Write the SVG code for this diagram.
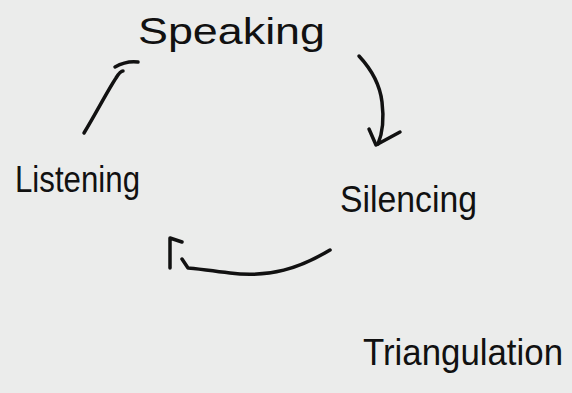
<svg xmlns="http://www.w3.org/2000/svg" width="572" height="393" viewBox="0 0 572 393">
  <style>
    .lbl { font-family: "Liberation Sans", Arial, sans-serif; font-size: 36px; fill: #111; }
    .ink { fill: none; stroke: #111; stroke-width: 3.5; stroke-linecap: round; stroke-linejoin: round; }
  </style>
  <rect width="572" height="393" fill="#ebeceb"/>
  <g id="connectors">
    <g id="speaking-to-silencing">
      <path class="ink" d="M359,56 C372,70 380,85 382,102 C384,118 383,132 378,144"/>
      <path class="ink" d="M369,129 L376,145 L400,132"/>
    </g>
    <g id="silencing-to-listening">
      <path class="ink" d="M330,250 C300,268 270,278 230,273 C205,270 192,268 188,268 L182,259"/>
      <path class="ink" d="M170,268 L170,238 L182,242"/>
    </g>
    <g id="listening-to-speaking">
      <path class="ink" d="M84,133 C95,115 108,90 116,78 C119,73 121,71 123,71"/>
      <path class="ink" d="M115,67 C122,63 130,61 138,62"/>
    </g>
  </g>
  <g id="node-speaking">
    <text class="lbl" x="138" y="44" font-size="42" textLength="187" lengthAdjust="spacingAndGlyphs">Speaking</text>
  </g>
  <g id="node-listening">
    <text class="lbl" x="15" y="192" textLength="125" lengthAdjust="spacingAndGlyphs">Listening</text>
  </g>
  <g id="node-silencing">
    <text class="lbl" x="340" y="212" textLength="137" lengthAdjust="spacingAndGlyphs">Silencing</text>
  </g>
  <g id="node-triangulation">
    <text class="lbl" x="363" y="365" textLength="200" lengthAdjust="spacingAndGlyphs">Triangulation</text>
  </g>
</svg>
